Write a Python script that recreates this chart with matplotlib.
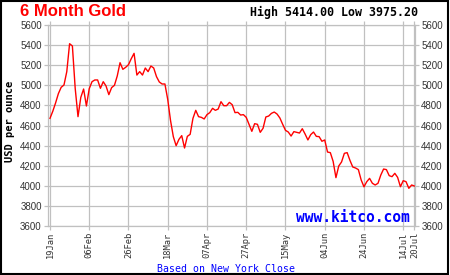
import matplotlib
matplotlib.use("Agg")
import matplotlib.pyplot as plt
from matplotlib.patches import Rectangle

# trading-day index (0 = 19Jan) and gold price
day = list(range(131))
price = [
    4671, 4741, 4824, 4917, 4980, 5003, 5136, 5414, 5391, 4970,
    4688, 4880, 4963, 4794, 4966, 5036, 5053, 5053, 4970, 5036,
    4993, 4907, 4977, 5000, 5093, 5225, 5159, 5179, 5205, 5265,
    5318, 5102, 5136, 5102, 5172, 5136, 5192, 5172, 5086, 5033,
    5013, 5013, 4860, 4650, 4489, 4399, 4462, 4499, 4376, 4492,
    4512, 4671, 4751, 4688, 4681, 4665, 4708, 4728, 4771, 4751,
    4764, 4837, 4797, 4797, 4830, 4807, 4728, 4731, 4704, 4708,
    4681, 4612, 4542, 4618, 4612, 4532, 4572, 4685, 4694, 4721,
    4734, 4714, 4675, 4612, 4552, 4535, 4495, 4539, 4532, 4525,
    4568, 4515, 4456, 4509, 4535, 4492, 4489, 4443, 4456, 4336,
    4330, 4243, 4081, 4197, 4237, 4323, 4330, 4253, 4187, 4177,
    4161, 4058, 3990, 4041, 4074, 4025, 4008, 4025, 4107, 4167,
    4161, 4101, 4091, 4124, 4084, 3991, 4051, 4041, 3975, 4008,
    3998,
]

tick_days = [0, 14, 28, 42, 56, 70, 84, 98, 112, 126, 130]
tick_labels = ["19Jan", "06Feb", "26Feb", "18Mar", "07Apr", "27Apr",
               "15May", "04Jun", "24Jun", "14Jul", "20Jul"]
y_ticks = list(range(3600, 5601, 200))

GRID = "#c0c0c0"

fig = plt.figure(figsize=(4.5, 2.75), dpi=100)
fig.patch.set_facecolor("white")
ax = fig.add_axes([48 / 450, 1 - 226 / 275, 367 / 450, 201 / 275])

ax.plot(day, price, color="#ff0000", linewidth=1.0)

ax.set_xlim(-0.7, 130.2)
ax.set_ylim(3600, 5600)
ax.set_xticks(tick_days)
ax.set_xticklabels(tick_labels, rotation=90, family="DejaVu Sans Mono",
                   fontsize=6.3, color="#333333")
ax.set_yticks(y_ticks)
ax.set_yticklabels([str(v) for v in y_ticks], family="Liberation Sans",
                   fontsize=7.0, color="#333333")
ax.grid(True, color=GRID, linewidth=0.9)
ax.set_axisbelow(True)
ax.tick_params(axis="both", colors=GRID, length=3, width=0.9, pad=1.5,
               labelcolor="#333333")
ax.tick_params(axis="y", right=True, labelright=True, left=True, labelleft=True)
ax.tick_params(axis="x", top=True)
for s in ax.spines.values():
    s.set_color(GRID)
    s.set_linewidth(0.9)

fig.text(20 / 450, 1 - 12 / 275, "6 Month Gold", color="#ff0000",
         fontsize=12, fontweight="bold", family="Liberation Sans",
         ha="left", va="center")
fig.text(418 / 450, 1 - 12 / 275, "High 5414.00 Low 3975.20", color="black",
         fontsize=8.4, fontweight="bold", family="DejaVu Sans Mono",
         ha="right", va="center")
fig.text(10 / 450, 1 - 121 / 275, "USD per ounce", color="black", rotation=90,
         fontsize=7.5, fontweight="bold", family="DejaVu Sans Mono",
         ha="center", va="center")
fig.text(353 / 450, 1 - 218 / 275, "www.kitco.com", color="#0000ff",
         fontsize=10.5, fontweight="bold", family="DejaVu Sans Mono",
         ha="center", va="center")
fig.text(226 / 450, 1 - 269 / 275, "Based on New York Close", color="#0000ff",
         fontsize=7.1, family="DejaVu Sans Mono", ha="center", va="center")

fig.patches.append(Rectangle((0.002, 0.003), 0.994, 0.993, transform=fig.transFigure,
                             fill=False, edgecolor="black", linewidth=1.5))

fig.savefig("out.png", dpi=100, facecolor="white")
